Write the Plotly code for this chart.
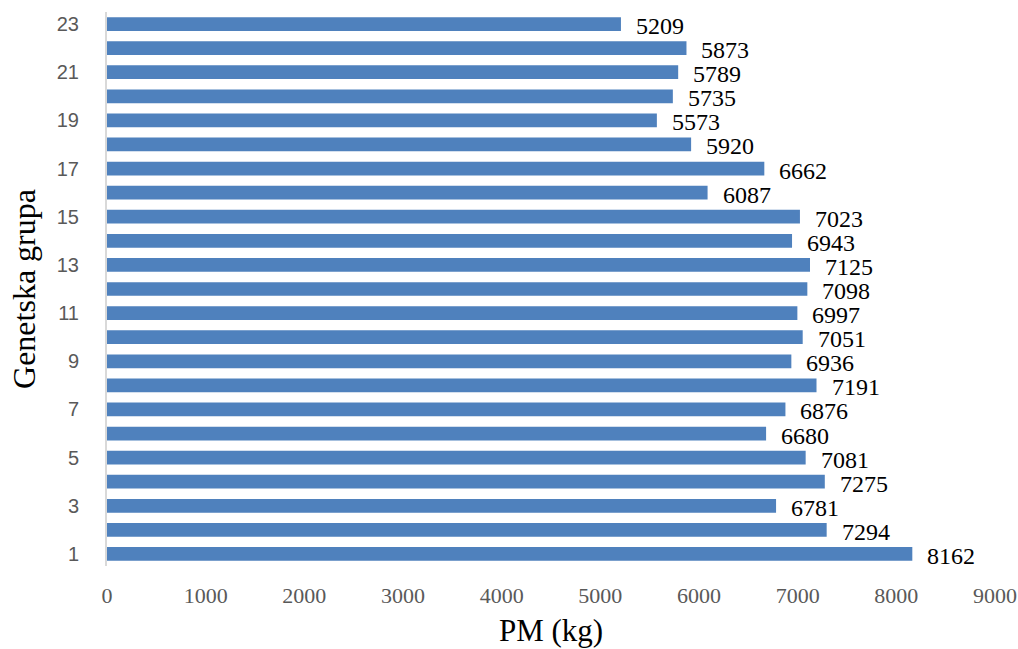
import plotly.graph_objects as go

groups = list(range(1, 24))
pm_values = [8162, 7294, 6781, 7275, 7081, 6680, 6876, 7191, 6936, 7051, 6997, 7098,
             7125, 6943, 7023, 6087, 6662, 5920, 5573, 5735, 5789, 5873, 5209]
y_ticks = [1, 3, 5, 7, 9, 11, 13, 15, 17, 19, 21, 23]
x_ticks = [0, 1000, 2000, 3000, 4000, 5000, 6000, 7000, 8000, 9000]

SERIF = "Liberation Serif"
SANS = "Liberation Sans"

fig = go.Figure()
fig.add_trace(go.Bar(
    x=pm_values, y=groups, orientation="h",
    marker=dict(color="#4f81bd", line=dict(width=0)),
    width=0.57,
))
for g, v in zip(groups, pm_values):
    fig.add_annotation(x=v, y=g, text=str(v), showarrow=False, xanchor="left",
                       yanchor="middle", xshift=13, yshift=-2,
                       font=dict(family=SERIF, size=24, color="#000000"))

fig.update_layout(
    width=1018, height=649,
    margin=dict(l=107, r=23, t=12, b=83, autoexpand=False),
    plot_bgcolor="white", paper_bgcolor="white",
    showlegend=False,
    xaxis=dict(range=[0, 9000], tickvals=x_ticks, showgrid=False, zeroline=False,
               showline=False, ticks="", ticklabelstandoff=14, automargin=False,
               tickfont=dict(family=SERIF, size=22, color="#595959"),
               title=dict(text="PM (kg)", font=dict(family=SERIF, size=31, color="#000000"),
                          standoff=12)),
    yaxis=dict(range=[0.5, 23.5], tickvals=y_ticks, showgrid=False, zeroline=False,
               showline=True, linecolor="#d9d9d9", linewidth=2, ticks="",
               ticklabelstandoff=22, automargin=False,
               tickfont=dict(family=SANS, size=20, color="#595959"),
               title=dict(text="Genetska grupa", font=dict(family=SERIF, size=32, color="#000000"),
                          standoff=12)),
)
fig.write_html("out.html")
